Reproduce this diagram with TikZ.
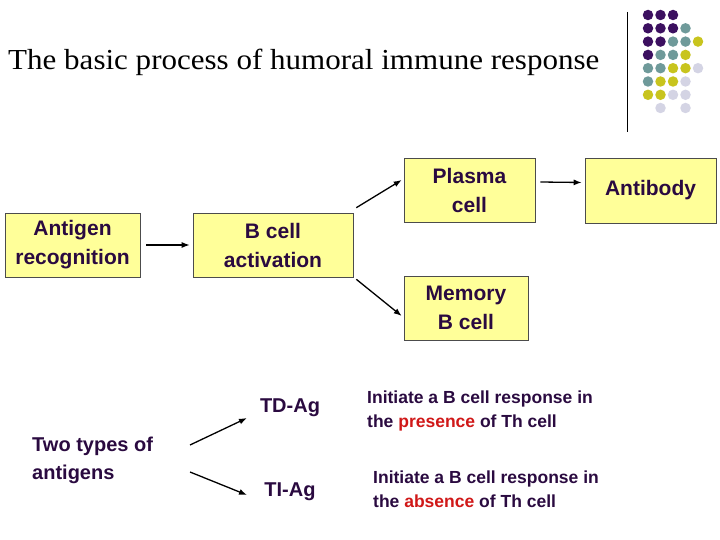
\documentclass[tikz,border=0pt]{standalone}
\usepackage{fontspec}
\setmainfont{Liberation Serif}
\setsansfont{Liberation Sans}
\begin{document}
\begin{tikzpicture}[x=1pt,y=-1pt,
  box/.style={draw=black!70,line width=0.6pt,fill=boxy,font=\sffamily\bfseries\fontsize{21}{29}\selectfont,text=txt,align=center,inner sep=0pt},
  lab/.style={font=\sffamily\bfseries\fontsize{20}{28}\selectfont,text=txt,align=left,inner sep=0pt},
  note/.style={font=\sffamily\bfseries\fontsize{17.5}{24}\selectfont,text=txt,align=left,inner sep=0pt,anchor=west},
  arr/.style={-{Latex[length=8pt,width=6pt]},line width=1.3pt},
  dot/.style={circle,inner sep=0pt,minimum size=10.5pt}]
\usetikzlibrary{arrows.meta}
\definecolor{boxy}{HTML}{FFFF99}
\definecolor{txt}{HTML}{2A0A40}
\definecolor{P}{HTML}{3C1060}
\definecolor{T}{HTML}{6F9A9A}
\definecolor{Y}{HTML}{C8C41E}
\definecolor{L}{HTML}{D4D4E4}
\definecolor{rd}{HTML}{D01818}
\useasboundingbox (0,0) rectangle (720,540);
\node[anchor=west,font=\fontsize{29}{32}\selectfont,inner sep=0pt,xscale=1.07] (title) at (8,62) {The basic process of humoral immune response};
\coordinate (v1) at (627,12); \coordinate (v2) at (627,132);
\draw[line width=0.8pt] (v1) -- (v2);
\foreach \row/\cols in {0/{P,P,P},1/{P,P,P,T},2/{P,P,T,T,Y},3/{P,T,T,Y},4/{T,T,Y,Y,L},5/{T,Y,Y,L},6/{Y,Y,L,L}}{
  \foreach \c [count=\i from 0] in \cols {
    \node[dot,fill=\c] (d\row\i) at (648+12.5*\i,15+13.3*\row) {};
  }
}
\node[dot,fill=L] (d71) at (660.5,108) {};
\node[dot,fill=L] (d73) at (685.5,108) {};
\node[box,minimum width=135pt,minimum height=64pt] (ag) at (72.5,245) {Antigen\\recognition};
\node[box,minimum width=160pt,minimum height=64pt] (bc) at (273,245) {B cell\\activation};
\node[box,minimum width=131pt,minimum height=64pt] (pc) at (469.5,190) {Plasma\\cell};
\node[box,minimum width=131pt,minimum height=65pt] (ab) at (650.5,190.5) {Antibody};
\node[box,minimum width=124pt,minimum height=64pt] (mc) at (466,308) {Memory\\B cell};
\draw[arr] (ag.east)++(6,0) coordinate (a1) -- ([xshift=-3pt]bc.west);
\draw[arr] ([xshift=3pt,yshift=5pt]bc.north east) -- ([xshift=-2pt,yshift=10pt]pc.west);
\draw[arr] ([xshift=3pt,yshift=-2pt]bc.south east) -- ([xshift=-2pt,yshift=-8pt]mc.west);
\draw[arr] ([xshift=5pt,yshift=8pt]pc.east) -- ([xshift=-3pt,yshift=8pt]ab.west);
\node[lab,anchor=west] (two) at (32,460) {Two types of\\antigens};
\node[lab,anchor=center] (td) at (290,408) {TD-Ag};
\node[lab,anchor=center] (ti) at (290,492) {TI-Ag};
\draw[arr] (190,445) coordinate (s1) -- (247,418) coordinate (e1);
\draw[arr] (190,472) coordinate (s2) -- (247,495) coordinate (e2);
\node[note] (n1) at (367,411) {Initiate a B cell response in\\the \textcolor{rd}{presence} of Th cell};
\node[note] (n2) at (373,489) {Initiate a B cell response in\\the \textcolor{rd}{absence} of Th cell};
\end{tikzpicture}
\end{document}
